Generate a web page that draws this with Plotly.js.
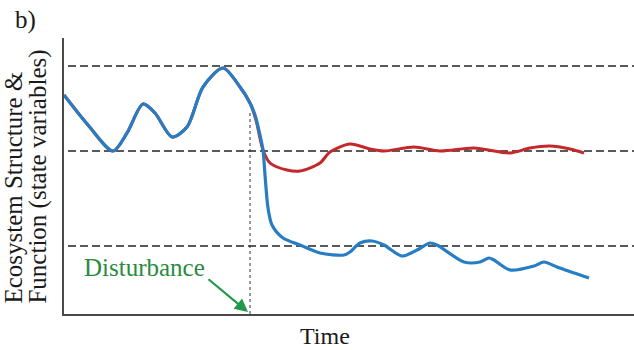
<!DOCTYPE html>
<html>
<head>
<meta charset="utf-8">
<script src="https://cdn.plot.ly/plotly-3.0.1.min.js"></script>
<style>html,body{margin:0;padding:0;background:#fff;}#chart{width:634px;height:350px;}</style>
</head>
<body>
<div id="chart"></div>
<script>
// Time (arbitrary units) and state-variable values
const tCommon = [0, 24, 49, 63, 79, 91, 108, 123, 139, 159, 176, 186];
const yCommon = [219, 189, 163, 181, 210, 201, 177, 187, 227, 246, 227, 211];

const tRed = [192, 199, 206, 223, 236, 256, 266, 286, 306, 320, 350, 376, 410, 446, 466, 486, 506, 520];
const yRed = [194, 164, 151, 144, 143, 151, 162, 170, 165, 163, 167, 163, 166, 161, 166, 168, 165, 161];

const tBlue = [191, 196, 199, 201, 204, 208, 219, 236, 256, 280, 286, 296, 308, 320, 338, 353, 366, 373, 400, 416, 425, 430, 446, 470, 480, 493, 525];
const yBlue = [199, 179, 164, 139, 106, 89, 76, 69, 61, 59, 62, 71, 73, 69, 58, 64, 71, 69, 52, 52, 56, 54, 44, 48, 52, 47, 36];

const refLevels = [248, 163, 68];
const disturbanceT = 186;
const disturbanceTop = 202;

const red = {
  x: tCommon.concat(tRed), y: yCommon.concat(yRed),
  mode: 'lines', line: {color: '#c3282b', width: 3, shape: 'spline', smoothing: 0.8},
  hoverinfo: 'skip'
};
const blue = {
  x: tCommon.concat(tBlue), y: yCommon.concat(yBlue),
  mode: 'lines', line: {color: '#277dc3', width: 3.2, shape: 'spline', smoothing: 0.8},
  hoverinfo: 'skip'
};

const shapes = refLevels.map(v => ({
  type: 'line', xref: 'x', x0: 4, x1: 570, yref: 'y', y0: v, y1: v,
  line: {color: '#5a5a5a', width: 1.8, dash: '8px,4px'}, layer: 'below'
}));
shapes.push({
  type: 'line', xref: 'x', x0: disturbanceT, x1: disturbanceT, yref: 'y', y0: 0, y1: disturbanceTop,
  line: {color: '#333333', width: 1, dash: 'dot'}, layer: 'below'
});

const serif = 'Liberation Serif, Times New Roman, serif';
const txt = '#1a1a1a';
const layout = {
  width: 634, height: 350,
  margin: {l: 64, r: 0, t: 38, b: 36},
  paper_bgcolor: '#fff', plot_bgcolor: '#fff',
  showlegend: false,
  xaxis: {range: [0, 570], showgrid: false, zeroline: false, showticklabels: false, ticks: '',
          showline: true, linecolor: '#4a4a4a', linewidth: 2, fixedrange: true},
  yaxis: {range: [0, 276], showgrid: false, zeroline: false, showticklabels: false, ticks: '',
          showline: true, linecolor: '#4a4a4a', linewidth: 2, fixedrange: true},
  shapes: shapes,
  annotations: [
    {xref: 'paper', yref: 'paper', x: -0.0877, y: 0.458, xanchor: 'center', yanchor: 'middle',
     text: 'Ecosystem Structure &', textangle: -90, showarrow: false, font: {family: serif, size: 25, color: txt}},
    {xref: 'paper', yref: 'paper', x: -0.0456, y: 0.498, xanchor: 'center', yanchor: 'middle',
     text: 'Function (state variables)', textangle: -90, showarrow: false, font: {family: serif, size: 25, color: txt}},
    {xref: 'paper', yref: 'paper', x: -0.0895, y: 1.065, xanchor: 'left', yanchor: 'middle', text: 'b)', showarrow: false,
     font: {family: serif, size: 25, color: txt}},
    {xref: 'paper', yref: 'paper', x: 0.458, y: -0.0797, xanchor: 'center', yanchor: 'middle', text: 'Time', showarrow: false,
     font: {family: serif, size: 24, color: txt}},
    {xref: 'x', yref: 'y', x: 80, y: 47, text: 'Disturbance', showarrow: false, xanchor: 'center', yanchor: 'middle',
     font: {family: serif, size: 25, color: '#2a8a3e'}},
    {xref: 'x', yref: 'y', x: 184, y: 2, text: '', showarrow: true, arrowhead: 2, arrowsize: 1.2,
     arrowwidth: 2.2, arrowcolor: '#1e9a4a', ax: -41, ay: -34}
  ]
};

Plotly.newPlot('chart', [red, blue], layout, {staticPlot: true, displayModeBar: false});
</script>
</body>
</html>
